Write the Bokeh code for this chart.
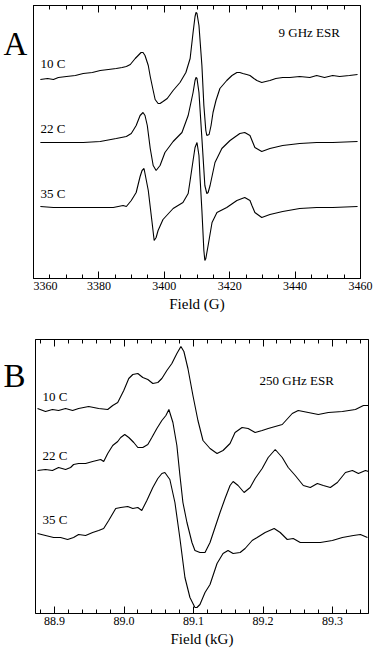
from bokeh.plotting import figure
from bokeh.models import Range1d, LinearAxis, SingleIntervalTicker, Label, PrintfTickFormatter
from bokeh.layouts import column, row
from bokeh.embed import file_html
from bokeh.resources import INLINE

# ---------------- Panel A: 9 GHz ESR (field in G, intensity a.u. with offsets) -------------
a_field_10 = [3362.1, 3364.3, 3366.1, 3367.6, 3370.1, 3372.8, 3375.2, 3378.0, 3380.4, 3382.9,
              3385.3, 3387.1, 3388.4, 3389.6, 3391.1, 3392.0, 3392.9, 3393.5, 3394.1, 3395.1,
              3395.7, 3396.6, 3397.2, 3398.1, 3398.7, 3399.6, 3400.9, 3402.7, 3404.8, 3406.6,
              3407.9, 3408.8, 3409.4, 3409.7, 3410.0, 3410.6, 3411.5, 3412.1, 3412.7, 3413.0,
              3413.7, 3414.3, 3414.9, 3415.8, 3417.0, 3419.1, 3420.7, 3422.2, 3423.1, 3424.0,
              3425.2, 3426.2, 3427.4, 3428.3, 3429.8, 3431.0, 3432.3, 3434.1, 3436.2, 3438.4,
              3441.4, 3444.5, 3446.6, 3449.0, 3451.5, 3453.6, 3456.6, 3459.1]
a_sig_10 = [199, 200, 199, 201, 202, 203, 205, 206, 208, 209,
            210, 211, 212, 214, 220, 223, 226, 226, 223, 213,
            202, 188, 179, 175, 175, 177, 180, 188, 196, 206,
            220, 246, 262, 266, 265, 253, 213, 173, 148, 143,
            144, 153, 166, 178, 190, 198, 203, 206, 206, 205,
            204, 203, 200, 198, 196, 197, 198, 200, 201, 201,
            202, 201, 203, 201, 203, 202, 203, 204]

a_field_22 = [3362.1, 3366.1, 3370.1, 3375.2, 3380.4, 3385.3, 3388.4, 3389.9, 3391.4, 3392.6,
              3393.5, 3394.1, 3394.8, 3395.7, 3396.6, 3397.5, 3398.7, 3400.2, 3402.7, 3405.4,
              3407.3, 3408.8, 3409.4, 3409.7, 3410.0, 3410.6, 3411.5, 3412.4, 3413.0, 3413.4,
              3414.0, 3415.5, 3417.6, 3420.1, 3423.1, 3424.6, 3426.2, 3427.7, 3429.8, 3432.3,
              3436.2, 3441.4, 3446.6, 3451.5, 3459.1]
a_sig_22 = [136, 136, 136, 136, 137, 140, 142, 145, 153, 163,
            166, 163, 153, 130, 113, 108, 113, 126, 137, 146,
            163, 186, 198, 201, 200, 186, 140, 93, 85, 86,
            93, 116, 130, 138, 145, 146, 143, 131, 127, 130,
            133, 135, 136, 136, 137]

a_field_35 = [3362.1, 3366.1, 3370.1, 3375.2, 3380.4, 3384.4, 3387.4, 3388.4, 3389.9, 3391.4,
              3392.6, 3393.2, 3393.8, 3395.1, 3396.3, 3396.9, 3397.5, 3398.1, 3399.6, 3402.7,
              3405.7, 3407.3, 3407.9, 3408.8, 3409.4, 3410.0, 3410.6, 3410.9, 3411.5, 3412.1,
              3412.4, 3412.7, 3413.4, 3414.6, 3416.1, 3419.1, 3422.2, 3424.6, 3426.2, 3426.8,
              3427.7, 3429.8, 3432.3, 3436.2, 3441.4, 3446.6, 3451.5, 3459.1]
a_sig_35 = [72, 71, 71, 71, 71, 71, 73, 72, 78, 86,
            102, 108, 110, 88, 55, 38, 41, 48, 59, 70,
            76, 85, 98, 118, 131, 136, 123, 103, 68, 28,
            18, 20, 33, 56, 66, 71, 78, 81, 78, 73,
            66, 61, 64, 67, 70, 71, 71, 72]

a_ticks_interval = 20
a_labels = ["10 C", "22 C", "35 C"]

# ---------------- Panel B: 250 GHz ESR (field in kG) -------------
b_field_10 = [88.8755, 88.887, 88.897, 88.9058, 88.9159, 88.926, 88.9346, 88.9491, 88.9635, 88.9765,
              88.9837, 88.9909, 88.9996, 89.0068, 89.0126, 89.0198, 89.0270, 89.0342, 89.0414, 89.0486,
              89.0544, 89.0616, 89.0688, 89.0760, 89.0818, 89.0861, 89.0919, 89.0991, 89.1063, 89.1136,
              89.1237, 89.1338, 89.1424, 89.1525, 89.1597, 89.1698, 89.1785, 89.1886, 89.1987, 89.2074,
              89.2175, 89.2276, 89.2420, 89.2506, 89.2651, 89.2795, 89.2939, 89.3141, 89.3329, 89.3444,
              89.3517]
b_sig_10 = [205, 202, 204, 203, 205, 203, 205, 207, 205, 204,
            208, 211, 223, 235, 239, 240, 236, 234, 230, 231,
            235, 243, 250, 260, 267, 262, 245, 218, 193, 173,
            165, 160, 163, 170, 181, 186, 185, 181, 183, 185,
            187, 189, 200, 203, 201, 199, 201, 202, 204, 208,
            208]

b_field_22 = [88.8755, 88.887, 88.897, 88.9058, 88.9159, 88.9231, 88.9274, 88.9346, 88.9447, 88.9548,
              88.9664, 88.9707, 88.9765, 88.9837, 88.9909, 88.9952, 89.0010, 89.0068, 89.0140, 89.0198,
              89.0270, 89.0342, 89.0400, 89.0472, 89.0544, 89.0602, 89.0645, 89.0703, 89.0760, 89.0804,
              89.0847, 89.0905, 89.0977, 89.1020, 89.1092, 89.1165, 89.1237, 89.1309, 89.1381, 89.1453,
              89.1525, 89.1569, 89.1641, 89.1727, 89.1814, 89.1886, 89.1987, 89.2074, 89.2175, 89.2276,
              89.2362, 89.2463, 89.2579, 89.2680, 89.2781, 89.2867, 89.2968, 89.3069, 89.3185, 89.3286,
              89.3372, 89.3473, 89.3517]
b_sig_22 = [143, 144, 143, 146, 144, 146, 149, 150, 150, 152,
            154, 152, 160, 168, 172, 176, 179, 176, 171, 166,
            166, 169, 176, 185, 193, 198, 204, 191, 168, 138,
            111, 91, 71, 63, 61, 61, 71, 86, 101, 115,
            128, 132, 128, 121, 126, 135, 145, 156, 164, 156,
            146, 138, 128, 126, 130, 128, 126, 131, 141, 143,
            140, 143, 142]

b_field_35 = [88.8755, 88.887, 88.8986, 88.9087, 88.9188, 88.9274, 88.9346, 88.9447, 88.9548, 88.9635,
              88.9707, 88.9779, 88.9880, 88.9952, 89.0053, 89.0126, 89.0198, 89.0255, 89.0328, 89.0414,
              89.0486, 89.0544, 89.0587, 89.0659, 89.0732, 89.0804, 89.0876, 89.0948, 89.1020, 89.1049,
              89.1092, 89.1165, 89.1237, 89.1338, 89.1424, 89.1496, 89.1569, 89.1670, 89.1742, 89.1843,
              89.1915, 89.2030, 89.2160, 89.2247, 89.2348, 89.2434, 89.2535, 89.2680, 89.2824, 89.2997,
              89.3141, 89.3300, 89.3401, 89.3502]
b_sig_35 = [80, 78, 76, 76, 74, 76, 79, 78, 81, 83,
            85, 93, 105, 106, 107, 105, 106, 103, 113, 126,
            135, 140, 141, 134, 111, 75, 36, 16, 6, 6,
            9, 21, 29, 50, 60, 63, 60, 61, 65, 73,
            76, 81, 85, 81, 74, 75, 71, 71, 71, 73,
            76, 78, 79, 76]

b_labels = ["10 C", "22 C", "35 C"]

SERIF = "Liberation Serif"


def style_axis(ax, show_labels):
    ax.axis_line_color = "black"
    ax.axis_line_width = 1
    ax.major_tick_in = 7
    ax.major_tick_out = 0
    ax.minor_tick_in = 4
    ax.minor_tick_out = 0
    ax.major_tick_line_color = "black"
    ax.minor_tick_line_color = "black"
    ax.major_label_text_font = SERIF
    ax.axis_label_text_font = SERIF
    ax.axis_label_text_font_style = "normal"
    ax.axis_label_text_color = "black"
    if show_labels:
        ax.major_label_text_color = "black"
        ax.major_label_text_font_size = "12px"
        ax.axis_label_text_font_size = "15px"
        ax.major_label_standoff = 3
        ax.axis_label_standoff = 3
    else:
        # tick marks only: labels are not painted at all
        ax.major_label_text_color = None
        ax.major_label_text_font_size = "12px"
        ax.major_label_standoff = 0


def make_panel(width, height, xr, yr, borders, interval, minor, xlabel, fmt):
    p = figure(width=width, height=height, x_range=xr, y_range=yr,
               output_backend="svg", toolbar_location=None,
               min_border_left=borders[0], min_border_right=borders[1],
               min_border_top=borders[2], min_border_bottom=borders[3])
    p.xgrid.visible = False
    p.ygrid.visible = False
    p.yaxis.visible = False
    p.outline_line_color = "black"
    p.outline_line_width = 1
    p.background_fill_color = "white"
    p.border_fill_color = "white"
    p.xaxis.ticker = SingleIntervalTicker(interval=interval, num_minor_ticks=minor)
    p.xaxis.axis_label = xlabel
    if fmt:
        p.xaxis.formatter = PrintfTickFormatter(format=fmt)
    style_axis(p.xaxis[0], True)
    top = LinearAxis(ticker=SingleIntervalTicker(interval=interval, num_minor_ticks=minor))
    style_axis(top, False)
    p.add_layout(top, "above")
    return p


def letter_panel(width, height, letter, baseline_from_frame_bottom):
    # narrow companion figure; its frame is aligned with the neighbouring panel's frame
    q = figure(width=width, height=height, x_range=Range1d(0, 1), y_range=Range1d(0, 1),
               output_backend="svg", toolbar_location=None,
               x_axis_type=None, y_axis_type=None, min_border=0)
    q.outline_line_color = None
    q.xgrid.visible = False
    q.ygrid.visible = False
    q.border_fill_color = "white"
    q.add_layout(Label(x=3, y=baseline_from_frame_bottom, x_units="screen", y_units="screen",
                       text=letter, text_font=SERIF, text_font_size="33px",
                       text_color="black", text_align="left", text_baseline="alphabetic"))
    return q


# ---- Panel A ----
pA = make_panel(342, 325, Range1d(3360, 3460), Range1d(0, 273), (0, 15, 5, 47),
                a_ticks_interval, 4, "Field (G)", None)
for xs, ys in [(a_field_10, a_sig_10), (a_field_22, a_sig_22), (a_field_35, a_sig_35)]:
    pA.line(xs, ys, line_color="black", line_width=1.1)

pA.add_layout(Label(x=245, y=246, x_units="screen", y_units="screen", text="9 GHz ESR",
                    text_font=SERIF, text_font_size="13px", text_color="black",
                    text_align="left", text_baseline="middle"))
for lab, yy in zip(a_labels, [215, 150, 85]):
    pA.add_layout(Label(x=7, y=yy, x_units="screen", y_units="screen", text=lab,
                        text_font=SERIF, text_font_size="13px", text_color="black",
                        text_align="left", text_baseline="middle"))
lA = letter_panel(33, 325, "A", 235)

# ---- Panel B ----
pB = make_panel(340, 327, Range1d(88.8726, 89.3517), Range1d(0, 274), (0, 7, 14, 39),
                0.1, 5, "Field (kG)", "%.1f")
for xs, ys in [(b_field_10, b_sig_10), (b_field_22, b_sig_22), (b_field_35, b_sig_35)]:
    pB.line(xs, ys, line_color="black", line_width=1.1)

pB.add_layout(Label(x=224, y=233, x_units="screen", y_units="screen", text="250 GHz ESR",
                    text_font=SERIF, text_font_size="13px", text_color="black",
                    text_align="left", text_baseline="middle"))
for lab, yy in zip(b_labels, [217, 158, 94]):
    pB.add_layout(Label(x=7, y=yy, x_units="screen", y_units="screen", text=lab,
                        text_font=SERIF, text_font_size="13px", text_color="black",
                        text_align="left", text_baseline="middle"))
lB = letter_panel(35, 327, "B", 238)

layout = column(row(lA, pA, spacing=0), row(lB, pB, spacing=0), spacing=0)
open("out.html", "w").write(file_html(layout, INLINE))
